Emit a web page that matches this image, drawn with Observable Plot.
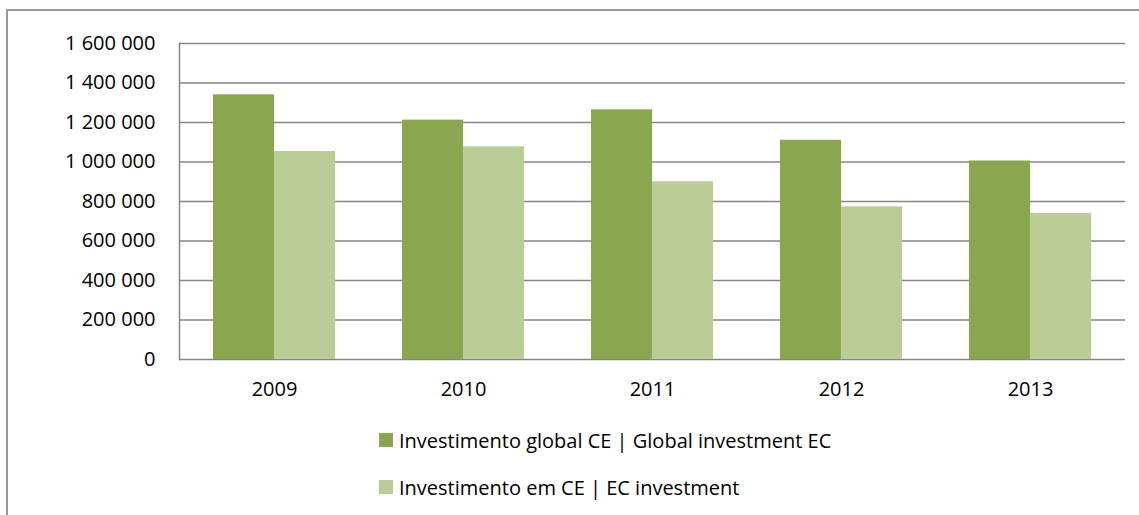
<!DOCTYPE html>
<html><head><meta charset="utf-8">
<script src="https://cdn.jsdelivr.net/npm/d3@7"></script>
<script src="https://cdn.jsdelivr.net/npm/@observablehq/plot@0.6"></script>
<style>
body{margin:0;background:#fff;font-family:"Open Sans",sans-serif;}
#frame{position:absolute;left:6px;top:9px;width:1200px;height:600px;border-left:2px solid #999;border-top:2px solid #999;}
#chart{position:absolute;left:0;top:0;}
#legend{position:absolute;left:379px;top:426px;font-size:20px;color:#000;font-family:"Open Sans",sans-serif;}
.row{display:flex;align-items:center;height:28px;margin-bottom:19px;white-space:nowrap;}
.sw{width:14px;height:14px;margin-right:6px;flex:none;}
</style></head><body>
<div id="frame"></div><div id="chart"></div><div id="legend"></div>
<script>
const years = ["2009", "2010", "2011", "2012", "2013"];
const seriesNames = ["Investimento global CE | Global investment EC", "Investimento em CE | EC investment"];
const globalInvestment = [1340000, 1212000, 1264000, 1110000, 1005000];
const ecInvestment = [1053000, 1077000, 900000, 773000, 740000];
const seriesColors = ["#8aa64f", "#bacd96"];
const yTicks = [0, 200000, 400000, 600000, 800000, 1000000, 1200000, 1400000, 1600000];

const dataGlobal = years.map((y, i) => ({year: y, value: globalInvestment[i], series: seriesNames[0]}));
const dataEC = years.map((y, i) => ({year: y, value: ecInvestment[i], series: seriesNames[1]}));

const W = 1139, H = 410;
const mL = 179, mR = 14, mT = 43, mB = 51;
const pin = 0.356, pout = 0.178;
const bw = Plot.scale({x: {type: "band", domain: years, range: [mL, W - mR], paddingInner: pin, paddingOuter: pout}}).bandwidth;

const loc = d3.formatLocale({decimal: ",", thousands: " ", grouping: [3], currency: ["", ""]});
const fmt = loc.format(",d");

const chart = Plot.plot({
  width: W, height: H,
  marginLeft: mL, marginRight: mR, marginTop: mT, marginBottom: mB,
  style: {fontSize: "20px", fontFamily: "'Open Sans', sans-serif", color: "#000", background: "transparent"},
  x: {type: "band", domain: years, paddingInner: pin, paddingOuter: pout, axis: null},
  y: {domain: [0, 1600000], axis: null},
  marks: [
    Plot.ruleY(yTicks, {stroke: "#868686", strokeWidth: 1.5}),
    Plot.barY(dataGlobal, {x: "year", y: "value", fill: seriesColors[0], insetRight: bw / 2}),
    Plot.barY(dataEC, {x: "year", y: "value", fill: seriesColors[1], insetLeft: bw / 2}),
    Plot.frame({anchor: "left", stroke: "#868686", strokeWidth: 1.5}),
    Plot.axisY({ticks: yTicks, tickSize: 0, tickPadding: 24, tickFormat: fmt, label: null}),
    Plot.axisX({tickSize: 0, tickPadding: 22, label: null})
  ]
});
document.getElementById("chart").appendChild(chart);

const legend = document.getElementById("legend");
seriesNames.forEach((name, i) => {
  const row = document.createElement("div");
  row.className = "row";
  const sw = document.createElement("span");
  sw.className = "sw";
  sw.style.background = seriesColors[i];
  const t = document.createElement("span");
  t.textContent = name;
  row.appendChild(sw); row.appendChild(t);
  legend.appendChild(row);
});
</script>
</body></html>
